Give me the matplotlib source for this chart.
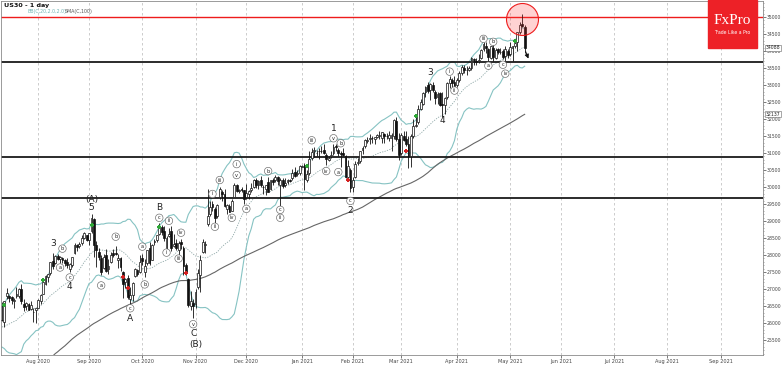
import numpy as np
import pandas as pd
import matplotlib
matplotlib.use("Agg")
import matplotlib.pyplot as plt
import matplotlib.transforms as mtransforms
from matplotlib.patches import Rectangle
from matplotlib.ticker import MultipleLocator

# =========================================================
# DATA  (US30 daily, Jul 13 2020 - May 11 2021, every business day)
# =========================================================

# closes before the visible window (Feb 24 - Jul 10 2020), only for BB / SMA
pre_closes = [
    27961, 27081, 26957, 25766, 25409,
    26703, 25917, 27091, 26121, 25865, 23851, 25018, 23553, 21200, 23186, 20189,
    21237, 19899, 20087, 19174, 18592, 20705, 21200, 22552, 21637, 22328, 21917,
    20944, 21413, 21053, 22680, 22654, 23434, 23719, 23719, 23390, 23950, 23505,
    23538, 24242, 23650, 23019, 23475, 23516, 23775, 24134, 24102, 24634, 24346,
    23724, 23750, 23883, 23665, 23875, 24331, 24222, 23765, 23248, 23625, 23685,
    24597, 24207, 24576, 24474, 24465, 24465, 24995, 25548, 25401, 25383,
    25475, 25742, 26270, 26282, 27111, 27572, 27272, 26990, 25128, 25606, 25763,
    26290, 26120, 26080, 25871, 26025, 26156, 25445, 25746, 25016, 25596, 25813,
    25735, 25827, 25827, 26287, 25890, 26067, 25706, 26075,
]

opens = [
    # Jul
    26100, 26030, 26780, 26790, 26760, 26650, 26790, 26800, 26990, 26550, 26490, 26560, 26400, 26320, 26390,
    # Aug
    26440, 26640, 26860, 27150, 27340, 27470, 27830, 27760, 27960, 27870, 27910, 27860, 27790, 27600, 27710,
    28050, 28300, 28260, 28360, 28510, 28580,
    # Sep
    28440, 28700, 29050, 28300, 28100, 27900, 27620, 28000, 27600, 27800, 28050, 28050, 27850, 27900, 27500,
    27200, 27320, 26700, 26830, 27370, 27560, 27500,
    # Oct
    27900, 27500, 27750, 28200, 27850, 28380, 28450, 28630, 28830, 28700, 28200, 28550, 28700, 28250, 28350,
    28150, 28380, 28200, 27700, 27300, 26500, 26600,
    # Nov
    26550, 27050, 27400, 28100, 28300, 28900, 29200, 29500, 29350, 29150, 29700, 29850, 29800, 29350, 29450,
    29300, 29700, 30050, 29870, 29930, 29900,
    # Dec
    29700, 29800, 29900, 30000, 30200, 30050, 30200, 30000, 29950, 30150, 29950, 30220, 30200, 30300, 30050,
    30200, 30050, 30150, 30200, 30250, 30450, 30380, 30400,
    # Jan
    30600, 30650, 30200, 30400, 30850, 31050, 31000, 31050, 31050, 31100, 30950, 30800, 30900, 31000, 31200,
    31100, 31000, 31000, 30900, 30300, 30500,
    # Feb
    30000, 30300, 30700, 30750, 31080, 31200, 31350, 31400, 31450, 31400, 31480, 31500, 31450, 31550, 31500,
    31450, 31450, 31500, 31950, 31400,
    # Mar
    31000, 31500, 31400, 31250, 30900, 31500, 31800, 31900, 32300, 32450, 32800, 33000, 32850, 33000, 32800,
    32650, 32750, 32450, 32400, 32650, 33050, 33150, 33100,
    # Apr
    33000, 33150, 33350, 33500, 33450, 33450, 33500, 33750, 33700, 33700, 33800, 34050, 34150, 34050, 33800,
    34100, 33800, 34050, 33980, 34000, 33850, 34000,
    # May
    33900, 34100, 34150, 34250, 34550, 34780, 34700,
]

highs = [
    26630, 26660, 27030, 26830, 26800, 26740, 27050, 27020, 27140, 26700, 26630, 26600, 26660, 26430, 26440,
    26700, 26840, 27220, 27400, 27450, 27800, 28070, 28000, 28030, 27960, 27950, 27880, 27920, 27770, 27950,
    28360, 28330, 28380, 28580, 28670, 28600,
    28660, 29200, 29080, 28420, 28200, 27990, 28030, 28190, 27870, 28100, 28180, 28250, 28030, 27950, 27520,
    27330, 27400, 27050, 27220, 27620, 27590, 27990,
    28040, 27880, 28160, 28370, 28330, 28460, 28600, 28950, 28880, 28840, 28550, 28800, 28860, 28620, 28480,
    28420, 28460, 28250, 27760, 27310, 26930, 26700,
    27000, 27600, 28000, 28460, 28400, 29930, 29600, 29600, 29400, 29500, 30000, 29900, 29950, 29500, 29500,
    29650, 30120, 30100, 29950, 30000, 29920,
    30100, 29900, 30120, 30230, 30250, 30200, 30320, 30050, 30060, 30300, 30200, 30260, 30350, 30330, 30250,
    30250, 30270, 30230, 30230, 30530, 30600, 30500, 30640,
    30650, 30700, 30500, 31050, 31150, 31190, 31100, 31150, 31200, 31250, 31000, 30900, 31050, 31250, 31250,
    31150, 31050, 31150, 30950, 30800, 30550,
    30300, 30750, 30850, 31060, 31200, 31400, 31480, 31550, 31500, 31480, 31560, 31650, 31620, 31600, 31600,
    31650, 31600, 31990, 32050, 31600,
    31600, 31650, 31650, 31500, 31550, 32000, 32150, 32400, 32600, 32800, 32980, 33100, 33050, 33100, 32850,
    32800, 32800, 32800, 32650, 33100, 33250, 33200, 33250,
    33200, 33400, 33600, 33600, 33550, 33550, 33810, 33800, 33780, 33900, 34050, 34250, 34250, 34100, 34150,
    34250, 34100, 34100, 34100, 34050, 34150, 34050,
    34250, 34150, 34350, 34560, 34850, 35090, 34760,
]

lows = [
    26060, 25890, 26700, 26610, 26570, 26450, 26740, 26730, 26550, 26340, 26390, 26370, 26380, 26040, 26000,
    26430, 26560, 26840, 27120, 27210, 27400, 27600, 27740, 27840, 27770, 27760, 27670, 27620, 27500, 27640,
    28020, 28130, 28200, 28290, 28460, 28400,
    28290, 28650, 27950, 27660, 27850, 27400, 27600, 27490, 27450, 27770, 27950, 27990, 27630, 27520, 26730,
    27020, 26720, 26540, 26640, 27350, 27390, 27480,
    27720, 27350, 27700, 27700, 27840, 28290, 28380, 28600, 28580, 28400, 28150, 28530, 28120, 28240, 28150,
    27990, 28170, 27400, 27410, 26480, 26380, 26140,
    26450, 27000, 26900, 28050, 28050, 28850, 29150, 29300, 28950, 29100, 29650, 29600, 29420, 29200, 29250,
    29280, 29700, 29850, 29830, 29850, 29500,
    29650, 29650, 29850, 29960, 29980, 29950, 30000, 29800, 29750, 29850, 29900, 30050, 30150, 30050, 29450,
    29980, 30000, 30100, 30150, 30200, 30300, 30330, 30350,
    30580, 29900, 30150, 30350, 30800, 30880, 30900, 30830, 30990, 30980, 30650, 30750, 30850, 30950, 31050,
    30900, 30600, 30900, 30250, 30250, 29850,
    29850, 30250, 30650, 30700, 30980, 31150, 31300, 31250, 31300, 31250, 31450, 31400, 31300, 31300, 31400,
    31350, 31050, 31400, 31350, 30800,
    30950, 31350, 31200, 30550, 30600, 31450, 31750, 31850, 32250, 32400, 32650, 32750, 32550, 32800, 32450,
    32450, 32380, 32050, 32150, 32600, 32900, 32950, 32950,
    32950, 33100, 33300, 33350, 33300, 33400, 33450, 33600, 33600, 33650, 33750, 34000, 33950, 33650, 33750,
    33700, 33750, 33900, 33900, 33750, 33700, 33800,
    33850, 33700, 34100, 34000, 34500, 34700, 33950,
]

closes = [
    26085, 26643, 26870, 26735, 26672, 26680, 26840, 27005, 26652, 26470, 26585, 26379, 26539, 26314, 26428,
    26664, 26828, 27201, 27387, 27433, 27791, 27687, 27976, 27897, 27931, 27844, 27778, 27692, 27739, 27930,
    28308, 28249, 28332, 28492, 28654, 28430,
    28645, 29100, 28292, 28133, 27950, 27500, 27940, 27535, 27666, 27993, 27996, 28032, 27902, 27657, 27148,
    27288, 26763, 26815, 27174, 27584, 27452, 27782,
    27817, 27683, 28149, 27773, 28303, 28426, 28587, 28838, 28680, 28514, 28494, 28606, 28195, 28309, 28211,
    28364, 28336, 27685, 27463, 26520, 26659, 26502,
    26925, 27481, 27848, 28390, 28323, 29158, 29421, 29398, 29080, 29480, 29950, 29784, 29438, 29483, 29263,
    29591, 30046, 29873, 29900, 29910, 29639,
    29824, 29883, 29969, 30218, 30070, 30174, 30068, 29999, 30046, 29861, 30200, 30155, 30304, 30179, 30216,
    30015, 30129, 30200, 30180, 30404, 30335, 30409, 30606,
    30610, 30224, 30392, 30829, 31041, 31098, 31009, 31068, 31061, 30991, 30814, 30850, 30931, 31188, 31176,
    30997, 30960, 30937, 30303, 30603, 29983,
    30212, 30688, 30724, 31056, 31148, 31386, 31376, 31438, 31431, 31458, 31520, 31523, 31613, 31494, 31494,
    31522, 31537, 31962, 31403, 30932,
    31535, 31391, 31270, 30924, 31496, 31802, 31833, 32297, 32486, 32779, 32953, 32826, 33015, 32862, 32628,
    32732, 32423, 32420, 32619, 33072, 33171, 33067, 32982,
    33153, 33350, 33527, 33430, 33446, 33504, 33801, 33746, 33677, 33730, 34036, 34201, 34078, 33821, 34137,
    33815, 34043, 33981, 33984, 33820, 34060, 33875,
    34113, 34133, 34230, 34548, 34778, 34743, 34088,
]

# support / resistance levels
red_level = 35000
black_levels = [33677, 30883, 29677]

# elliott wave labels: text, date, price, circled?
wave_labels = [
    ("3", "2020-08-11", 28333, False), ("b", "2020-08-17", 28187, True), ("a", "2020-08-14", 27632, True),
    ("c", "2020-08-20", 27339, True), ("4", "2020-08-20", 27076, False),
    ("(A)", "2020-09-02", 29620, False), ("5", "2020-09-02", 29386, False),
    ("a", "2020-09-08", 27105, True), ("b", "2020-09-16", 28538, True),
    ("c", "2020-09-24", 26433, True), ("A", "2020-09-24", 26140, False),
    ("a", "2020-10-01", 28246, True), ("b", "2020-10-02", 27135, True),
    ("B", "2020-10-12", 29386, False), ("c", "2020-10-12", 29094, True),
    ("i", "2020-10-15", 28070, True), ("ii", "2020-10-16", 29006, True),
    ("iii", "2020-10-22", 27895, True), ("iv", "2020-10-23", 28655, True),
    ("v", "2020-10-30", 25965, True), ("C", "2020-10-30", 25702, False), ("(B)", "2020-11-02", 25380, False),
    ("i", "2020-11-11", 29795, True), ("ii", "2020-11-12", 28830, True), ("iii", "2020-11-16", 30205, True),
    ("iv", "2020-11-23", 29094, True), ("i", "2020-11-25", 30673, True), ("v", "2020-11-25", 30351, True),
    ("a", "2020-12-01", 29357, True), ("b", "2020-12-14", 30468, True),
    ("c", "2020-12-21", 29328, True), ("ii", "2020-12-21", 29094, True),
    ("iii", "2021-01-07", 31374, True), ("iv", "2021-01-15", 30468, True),
    ("1", "2021-01-20", 31725, False), ("v", "2021-01-20", 31433, True),
    ("a", "2021-01-22", 30439, True), ("b", "2021-01-25", 31287, True),
    ("c", "2021-01-29", 29591, True), ("2", "2021-01-29", 29298, False),
    ("3", "2021-03-17", 33363, False), ("4", "2021-03-24", 31959, False),
    ("i", "2021-03-29", 33392, True), ("ii", "2021-03-31", 32836, True),
    ("iii", "2021-04-16", 34357, True), ("a", "2021-04-20", 33567, True), ("b", "2021-04-22", 34269, True),
    ("c", "2021-04-28", 33596, True), ("iv", "2021-04-29", 33333, True),
]

# signal marks on the candles
green_marks = [("2020-07-14", 26520), ("2020-08-05", 27251), ("2020-09-02", 28889), ("2020-10-12", 28830),
               ("2021-01-05", 30614), ("2021-03-09", 32076), ("2021-05-05", 34298)]
red_marks = [("2020-09-21", 27339), ("2020-09-23", 27017), ("2020-10-27", 27485),
             ("2021-01-28", 30205), ("2021-03-03", 31053)]

highlight_date = "2021-05-10"
highlight_price = 34940
arrow_end = ("2021-05-13", 33700)

# =========================================================
# PREP
# =========================================================

dates = pd.bdate_range("2020-07-13", "2021-05-11")
all_days = pd.bdate_range("2020-07-13", "2021-10-29")
assert len(dates) == len(closes) == len(opens) == len(highs) == len(lows)

o = np.array(opens, float)
h = np.array(highs, float)
l = np.array(lows, float)
c = np.array(closes, float)
pos = np.arange(len(dates))

full = pd.Series(pre_closes + closes, dtype=float)
n_pre = len(pre_closes)
mid = full.rolling(20).mean().values[n_pre:]
sd = full.rolling(20).std(ddof=0).values[n_pre:]
sma100 = full.rolling(100).mean().values[n_pre:]


def ix(d):
    return all_days.get_loc(pd.Timestamp(d))


# =========================================================
# FIGURE
# =========================================================

W, H = 782, 366
fig = plt.figure(figsize=(W / 100, H / 100), dpi=100)
ax = fig.add_axes([1 / W, 11 / H, 762 / W, 354 / H])

ax.set_xlim(-0.4, 314.5)
ax.set_ylim(25059, 35470)

# month grid
months = pd.date_range("2020-08-01", "2021-09-01", freq="MS")
mpos = [all_days.searchsorted(m) for m in months]
ax.set_xticks(mpos)
ax.set_xticklabels([m.strftime("%b %Y") for m in months])
ax.grid(axis="x", color="#c4c4c4", lw=0.6, ls=(0, (3, 3)))

# indicators
ax.plot(pos, mid + 2 * sd, color="#86c3c3", lw=0.8, zorder=2)
ax.plot(pos, mid - 2 * sd, color="#86c3c3", lw=0.8, zorder=2)
ax.plot(pos, mid, color="#8fa8a8", lw=0.6, ls=(0, (1.5, 1.5)), zorder=2)
ax.plot(pos, sma100, color="#666666", lw=0.8, zorder=2)

# levels
ax.axhline(red_level, color="#ee1c1c", lw=1.0, zorder=2)
for lv in black_levels:
    ax.axhline(lv, color="#1a1a1a", lw=1.3, zorder=2)

# candles
up = c >= o
ax.vlines(pos, l, h, color="#111111", lw=0.6, zorder=3)
ax.bar(pos[up], (c - o)[up], bottom=o[up], width=0.75, color="white",
       edgecolor="#111111", linewidth=0.5, zorder=4)
ax.bar(pos[~up], (o - c)[~up], bottom=c[~up], width=0.75, color="#111111",
       edgecolor="#111111", linewidth=0.5, zorder=4)

# signal marks
ax.scatter([ix(d) for d, _ in green_marks], [p for _, p in green_marks],
           marker="P", s=7, color="#2ea836", lw=0, zorder=5)
ax.scatter([ix(d) for d, _ in red_marks], [p for _, p in red_marks],
           marker="P", s=7, color="#d42020", lw=0, zorder=5)

# wave labels
for txt, d, p, circ in wave_labels:
    if circ:
        ax.text(ix(d), p, txt, fontsize=3.6, ha="center", va="center", color="#222", zorder=6,
                bbox=dict(boxstyle="circle,pad=0.25", fc="white", ec="#666", lw=0.45))
    else:
        ax.text(ix(d), p, txt, fontsize=6.5, ha="center", va="center", color="#222", zorder=6)

# highlight circle + arrow
ax.scatter([ix(highlight_date)], [highlight_price], s=530, facecolor=(1, 0.2, 0.2, 0.22),
           edgecolor="#ee1c1c", lw=0.8, zorder=5)
ax.annotate("", xy=(ix(arrow_end[0]), arrow_end[1]), xytext=(pos[-1], c[-1] - 30),
            arrowprops=dict(arrowstyle="-|>", color="#111", lw=0.7, mutation_scale=6), zorder=6)

# axes styling
ax.yaxis.tick_right()
ax.set_yticks(np.arange(25500, 35001, 500))
ax.yaxis.set_minor_locator(MultipleLocator(100))
ax.tick_params(axis="y", which="major", labelsize=3.3, length=2, width=0.5, pad=0.8, colors="#444")
ax.tick_params(axis="y", which="minor", length=1, width=0.4, colors="#666")
ax.tick_params(axis="x", labelsize=3.6, length=2, width=0.5, pad=1, colors="#444")
for s in ax.spines.values():
    s.set_color("#8a8a8a")
    s.set_linewidth(0.6)

# current price / sma value boxes
trans = mtransforms.blended_transform_factory(ax.transAxes, ax.transData)
for val in [c[-1], sma100[-1]]:
    ax.text(1.004, val, f"{val:.0f}", transform=trans, fontsize=3.3, ha="left", va="center",
            color="#222", zorder=7, clip_on=False,
            bbox=dict(boxstyle="square,pad=0.12", fc="white", ec="#666", lw=0.4))

# titles
fig.text(4 / W, 1 - 5 / H, "US30 - 1 day", fontsize=4.6, color="#111", va="center", weight="bold")
fig.text(28 / W, 1 - 12 / H, "BB(C,20,2.0,2.0)", fontsize=3.4, color="#6fb3b3", va="center")
fig.text(65 / W, 1 - 12 / H, "SMA(C,100)", fontsize=3.4, color="#555", va="center")

# logo
fig.patches.append(Rectangle((708 / W, 1 - 48 / H), 49 / W, 48 / H, transform=fig.transFigure,
                             color="#ed2127", zorder=10))
fig.text(732 / W, 1 - 21 / H, "FxPro", fontsize=11, family="Liberation Serif", color="white",
         ha="center", va="center", zorder=11)
fig.text(732 / W, 1 - 33 / H, "Trade Like a Pro", fontsize=3.3, color="white",
         ha="center", va="center", zorder=11)

fig.savefig("out.png", dpi=100)
